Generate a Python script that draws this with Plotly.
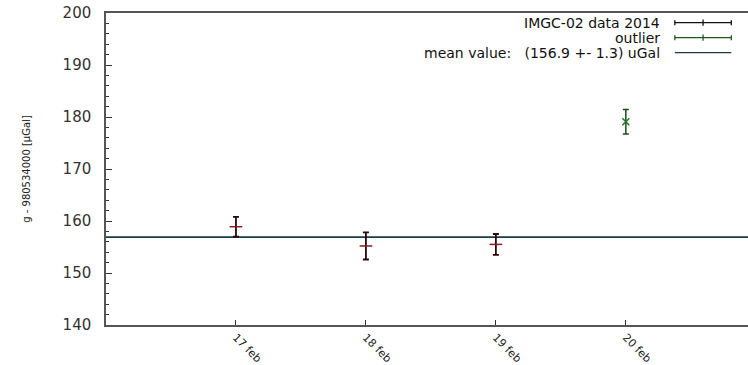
import plotly.graph_objects as go

# ---- data ----
days = [17, 18, 19]
day_labels = ["17 feb", "18 feb", "19 feb", "20 feb"]
tick_days = [17, 18, 19, 20]
g_values = [158.9, 155.2, 155.5]
g_errors = [1.9, 2.6, 2.0]
outlier_days = [20]
outlier_values = [179.1]
outlier_errors = [2.35]
mean_value = 156.9
mean_err = 1.3
x_range = [16, 20.94]
y_range = [140, 200]

legend_texts = ["IMGC-02 data 2014", "outlier", "mean value:   (156.9 +- 1.3) uGal"]

fig = go.Figure()

fig.add_trace(go.Scatter(
    x=x_range, y=[mean_value, mean_value], mode="lines",
    line=dict(color="#1d3a48", width=1.6), showlegend=False, hoverinfo="skip"))

fig.add_trace(go.Scatter(
    x=days, y=g_values, mode="markers",
    marker=dict(symbol="line-ew", size=9, line=dict(color="#8b1a1a", width=1.5)),
    error_y=dict(type="data", array=g_errors, color="#2a0808", thickness=1.8, width=3),
    showlegend=False))

fig.add_trace(go.Scatter(
    x=outlier_days, y=outlier_values, mode="markers",
    marker=dict(symbol="x-thin", size=7, line=dict(color="#1f7a1f", width=1.5)),
    error_y=dict(type="data", array=outlier_errors, color="#184d18", thickness=1.5, width=3),
    showlegend=False))

font_main = "DejaVu Sans"

# legend (gnuplot style: text left, sample right)
legend_y = [0.969, 0.921, 0.873]
key_cols = ["#111111", "#1f5a1f", "#1d3a48"]
shapes = []
annotations = []
for t, yy in zip(legend_texts, legend_y):
    annotations.append(dict(xref="paper", yref="paper", x=0.865, y=yy, text=t,
                            showarrow=False, xanchor="right", yanchor="middle",
                            borderpad=0,
                            font=dict(family=font_main, size=14, color="#111")))
for i, yy in enumerate(legend_y):
    shapes.append(dict(type="line", xref="paper", yref="paper", x0=0.886, x1=0.974,
                       y0=yy, y1=yy, line=dict(color=key_cols[i], width=1.3)))
    if i < 2:
        for xx in (0.886, 0.974):
            shapes.append(dict(type="line", xref="paper", yref="paper", x0=xx, x1=xx,
                               y0=yy - 0.008, y1=yy + 0.008, line=dict(color=key_cols[i], width=1.3)))
        shapes.append(dict(type="line", xref="paper", yref="paper", x0=0.930, x1=0.930,
                           y0=yy - 0.01, y1=yy + 0.01, line=dict(color=key_cols[i], width=1.3)))

fig.update_layout(
    width=748, height=365,
    margin=dict(l=106, r=0, t=13, b=40),
    plot_bgcolor="white", paper_bgcolor="white",
    shapes=shapes, annotations=annotations, showlegend=False,
    xaxis=dict(range=x_range, tickvals=tick_days, ticktext=day_labels,
               tickangle=45, ticks="inside", ticklen=5, tickcolor="#333",
               showgrid=False, zeroline=False, showline=True, linecolor="#555",
               linewidth=1.5, mirror=True, automargin=False, ticklabelstandoff=0,
               tickfont=dict(family=font_main, size=11, color="#222")),
    yaxis=dict(range=y_range, dtick=10, ticks="inside", ticklen=6, tickcolor="#333",
               minor=dict(dtick=2, ticks="inside", ticklen=3, tickcolor="#333"),
               showgrid=False, zeroline=False, showline=True, linecolor="#555",
               linewidth=1.5, mirror=True, ticklabelstandoff=10, automargin=False,
               ticklabeloverflow="allow",
               tickfont=dict(family=font_main, size=15, color="#333"),
               title=dict(text="g - 980534000 [µGal]", standoff=30,
                          font=dict(family=font_main, size=10, color="#222"))),
)

# remove the default 8px page margin so the figure fills the window exactly
fig.write_html("out.html", config={"displayModeBar": False},
               post_script="document.body.style.margin='0';document.body.style.padding='0';")
